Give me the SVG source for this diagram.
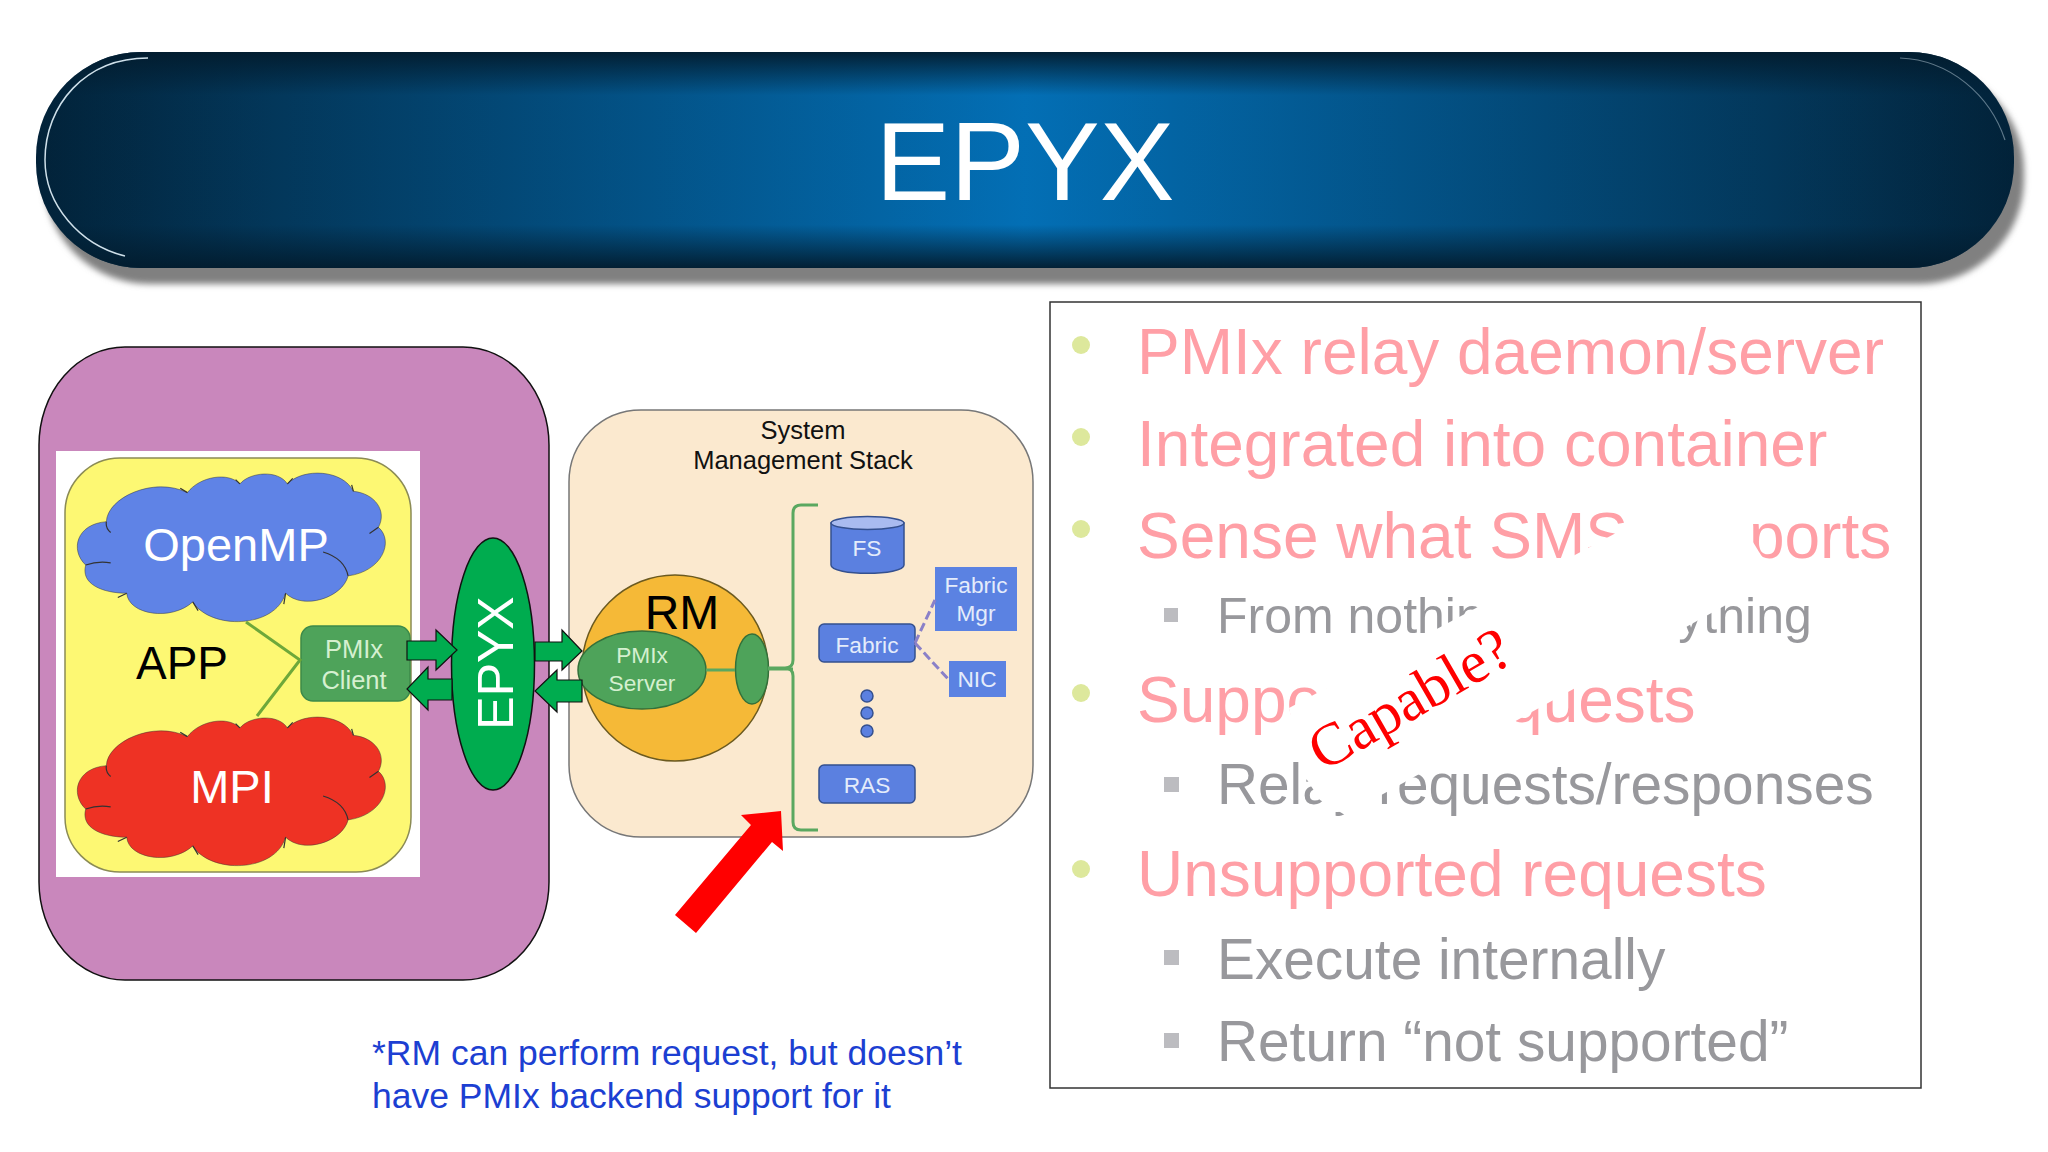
<svg xmlns="http://www.w3.org/2000/svg" xmlns:xlink="http://www.w3.org/1999/xlink" width="2048" height="1152" viewBox="0 0 2048 1152">
<style>
text{font-family:"Liberation Sans",Arial,sans-serif}
.c{text-anchor:middle}
.w{fill:#fff}
.lg{fill:#d5f0d0}
.lb{fill:#e4ecfb}
.m{font-size:64px;fill:#ff9fa6}
.s{font-size:56.800px;fill:#98989c}
.b{fill:#dde89c}
.q{fill:#bcbcc0}
.blue{fill:#5b80e0;stroke:#34508f;stroke-width:1.5}
.flat{fill:#5b82e2}
.ar{fill:#00ac4f;stroke:#111;stroke-width:1.2}
.cl{stroke:#333;stroke-width:1.2;vector-effect:non-scaling-stroke}
.hk{fill:none;stroke:#333;stroke-width:1.2;vector-effect:non-scaling-stroke}
</style>
<defs>
<linearGradient id="h" x1="0" x2="1" y1="0" y2="0">
<stop offset="0" stop-color="#02233a"/><stop offset=".12" stop-color="#033a5f"/><stop offset=".5" stop-color="#0378c4"/><stop offset=".88" stop-color="#033a5f"/><stop offset="1" stop-color="#02233a"/>
</linearGradient>
<linearGradient id="v" x1="0" x2="0" y1="0" y2="1">
<stop offset="0" stop-color="#021c2e" stop-opacity=".95"/><stop offset=".2" stop-color="#021c2e" stop-opacity=".1"/><stop offset=".8" stop-color="#021c2e" stop-opacity=".1"/><stop offset="1" stop-color="#021c2e" stop-opacity=".95"/>
</linearGradient>
<filter id="sh" x="-5%" y="-20%" width="110%" height="140%"><feGaussianBlur stdDeviation="3"/></filter>
<path id="cloud" d="M298 465C300 410 430 360 525 398C560 360 640 350 672 378C700 350 780 345 805 378C850 340 960 345 990 395C1050 400 1085 440 1060 478C1105 510 1070 580 975 590C960 640 850 670 800 630C770 712 590 715 540 650C480 695 360 680 355 630C290 630 225 610 240 565C195 530 215 470 298 465Z"/>
<g id="hooks"><path class="hk" d="M298 465Q295 480 310 490M525 398L505 388M672 378L660 368M805 378L820 365M990 395L985 380M1060 478L1035 492M975 590Q965 550 905 535M800 630L795 655M540 650L555 670M355 630L330 640M240 565Q275 555 310 560"/></g>
</defs>

<g id="banner">
<rect x="44" y="66" width="1980" height="218" rx="105" fill="#808080" filter="url(#sh)"/>
<rect x="36" y="52" width="1978" height="216" rx="105" fill="url(#h)"/>
<rect x="36" y="52" width="1978" height="216" rx="105" fill="url(#v)"/>
<path d="M148 58C85 58 45 105 45 160C45 205 80 245 125 256" fill="none" stroke="#cfe0ea" stroke-width="1.5"/>
<path d="M1900 58C1950 60 1990 95 2005 140" fill="none" stroke="#cfe0ea" stroke-width="1.2" opacity=".45"/>
<text class="c w" x="1025" y="200" font-size="112">EPYX</text>
</g>

<g id="container">
<rect x="39" y="347" width="510" height="633" rx="86" ry="98" fill="#c987bc" stroke="#111" stroke-width="1.5"/>
</g>

<g id="app">
<rect x="56" y="451" width="364" height="426" fill="#fff"/>
<rect x="65" y="458" width="346" height="414" rx="55" fill="#fdf873" stroke="#8b8b55" stroke-width="1.5"/>
<text x="136" y="679" font-size="46" fill="#000">APP</text>
</g>

<g id="openmp">
<g transform="translate(0,320) scale(.357,.4337)"><use xlink:href="#cloud" class="cl" fill="#5f83e6"/><use xlink:href="#hooks"/></g>
<text class="c w" x="236" y="561" font-size="47">OpenMP</text>
</g>
<g id="mpi">
<g transform="translate(0,564) scale(.357,.4337)"><use xlink:href="#cloud" class="cl" fill="#ee3224"/><use xlink:href="#hooks"/></g>
<text class="c w" x="232" y="803" font-size="47">MPI</text>
</g>
<g id="pmix-client">
<rect x="301" y="626" width="109" height="75" rx="12" fill="#4ea35a" stroke="#3c8a4a" stroke-width="1.5"/>
<text class="c lg" x="354" y="658" font-size="25.500">PMIx</text>
<text class="c lg" x="354" y="689" font-size="25.500">Client</text>
</g>
<g id="epyx">
<ellipse cx="493" cy="664" rx="41.500" ry="126" fill="#00ac4f" stroke="#111" stroke-width="1.5"/>
<text class="c w" transform="translate(513,663) rotate(-90)" font-size="50">EPYX</text>
</g>

<g id="sms">
<rect x="569" y="410" width="464" height="427" rx="72" fill="#fbe9cf" stroke="#777" stroke-width="1.5"/>
<text class="c" x="803" y="439" font-size="25.500" fill="#111">System</text>
<text class="c" x="803" y="469" font-size="25.500" fill="#111">Management Stack</text>
</g>
<g id="rm">
<ellipse cx="675" cy="668" rx="93" ry="93" fill="#f5b937" stroke="#6b5a20" stroke-width="1.5"/>
<text class="c" x="682" y="629" font-size="48" fill="#000">RM</text>
</g>
<g id="pmix-server">
<ellipse cx="642" cy="670" rx="64" ry="39" fill="#4ea35a" stroke="#33703a" stroke-width="1.5"/>
<text class="c lg" x="642" y="663" font-size="22.700">PMIx</text>
<text class="c lg" x="642" y="691" font-size="22.700">Server</text>
</g>
<g id="rm-port"><ellipse cx="752" cy="669" rx="16.500" ry="35" fill="#4ea35a" stroke="#33703a" stroke-width="1.5"/></g>
<g id="fs">
<path class="blue" d="M831 523V565C831 576 904 576 904 565V523Z"/>
<ellipse cx="867.500" cy="523" rx="36.500" ry="6.500" fill="#a9bbf0" stroke="#34508f" stroke-width="1.5"/>
<text class="c lb" x="867" y="556" font-size="22.700">FS</text>
</g>
<g id="fabric">
<rect class="blue" x="819" y="624" width="96" height="38" rx="5"/>
<text class="c lb" x="867" y="653" font-size="22.700">Fabric</text>
</g>
<g id="fabric-mgr">
<rect class="flat" x="935" y="567" width="82" height="64"/>
<text class="c lb" x="976" y="593" font-size="22.700">Fabric</text>
<text class="c lb" x="976" y="621" font-size="22.700">Mgr</text>
</g>
<g id="nic">
<rect class="flat" x="949" y="661" width="57" height="36"/>
<text class="c lb" x="977" y="687" font-size="22.700">NIC</text>
</g>
<g id="dots">
<ellipse class="blue" cx="867" cy="696" rx="6" ry="6"/>
<ellipse class="blue" cx="867" cy="713" rx="6" ry="6"/>
<ellipse class="blue" cx="867" cy="731" rx="6" ry="6"/>
</g>
<g id="ras">
<rect class="blue" x="819" y="765" width="96" height="38" rx="5"/>
<text class="c lb" x="867" y="793" font-size="22.700">RAS</text>
</g>

<g id="connectors">
<path d="M246 622L300 660L257 716" fill="none" stroke="#6ea83a" stroke-width="3"/>
<path class="ar" d="M407 641H436V630L457 650L436 670V660H407Z"/>
<path class="ar" d="M452 679H428V667L407 689L428 710V700H452Z"/>
<path class="ar" d="M535 642H562V630L582 651L562 670V661H535Z"/>
<path class="ar" d="M582 680H557V670L535 691L557 712V702H582Z"/>
<path d="M706 670H735M768 669H793" fill="none" stroke="#5aa860" stroke-width="3"/>
<path d="M818 505H801Q793 505 793 513V660Q793 668 785 668H768M785 668Q793 668 793 676V822Q793 830 801 830H818" fill="none" stroke="#5aa860" stroke-width="3"/>
<path d="M915 643L935 600M915 643L949 680" fill="none" stroke="#8a80c8" stroke-width="3" stroke-dasharray="9 4"/>
</g>
<g id="red-arrow"><path d="M741 815L781 811L783 851L772 842L696 933L675 915L751 825Z" fill="#f00"/></g>

<g id="footnote" font-size="35.500" fill="#1c3fd2">
<text x="372" y="1065" fill="#1c3fd2">*RM can perform request, but doesn’t</text>
<text x="372" y="1108" fill="#1c3fd2">have PMIx backend support for it</text>
</g>

<g id="panel">
<rect x="1050" y="302" width="871" height="786" fill="#fff" stroke="#333" stroke-width="1.5"/>
<ellipse class="b" cx="1081" cy="345" rx="9" ry="9"/>
<ellipse class="b" cx="1081" cy="437" rx="9" ry="9"/>
<ellipse class="b" cx="1081" cy="529" rx="9" ry="9"/>
<ellipse class="b" cx="1081" cy="693" rx="9" ry="9"/>
<ellipse class="b" cx="1081" cy="869" rx="9" ry="9"/>
<rect class="q" x="1164" y="608" width="14" height="14"/>
<rect class="q" x="1164" y="777" width="15" height="15"/>
<rect class="q" x="1164" y="950" width="15" height="15"/>
<rect class="q" x="1164" y="1033" width="15" height="15"/>
<text class="m" x="1137" y="374">PMIx relay daemon/server</text>
<text class="m" x="1137" y="466">Integrated into container</text>
<text class="m" x="1137" y="558">Sense what SMS supports</text>
<text class="s" x="1217" y="633" style="font-size:50px">From nothing to everything</text>
<text class="m" x="1137" y="722">Supported requests</text>
<text class="s" x="1217" y="804">Relay requests/responses</text>
<text class="m" x="1137" y="896">Unsupported requests</text>
<text class="s" x="1217" y="979">Execute internally</text>
<text class="s" x="1217" y="1061">Return “not supported”</text>
<path d="M1289 708L1715 480L1775 578L1345 815L1320 800L1302 772Z" fill="#fff"/>
<text transform="translate(1323,772) rotate(-30)" font-size="60" fill="#f00" style="font-family:'Liberation Serif','Times New Roman',serif">Capable?</text>
</g>
</svg>
